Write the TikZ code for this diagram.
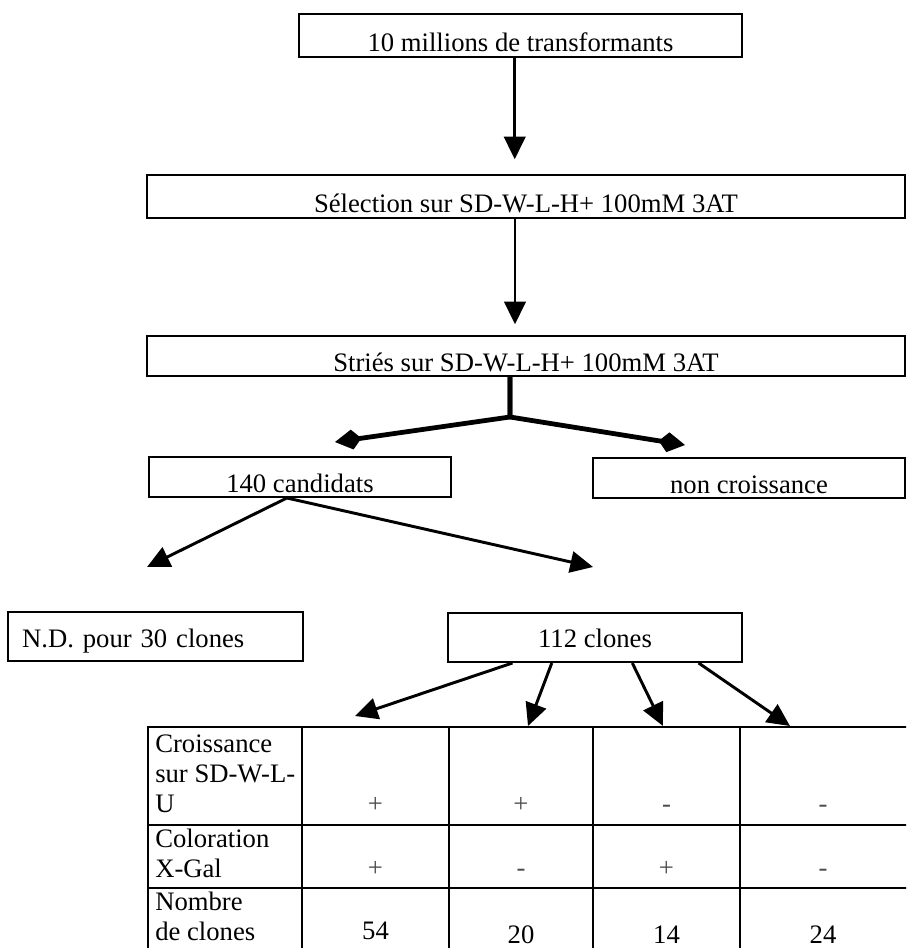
\documentclass[tikz,border=0pt]{standalone}
\usepackage{fontspec}
\setmainfont{Liberation Serif}
\usetikzlibrary{positioning,arrows.meta,calc}

\begin{document}
\begin{tikzpicture}[x=0.75pt,y=-0.75pt,
    box/.style={draw, line width=1.5pt, inner sep=0pt, font=\fontsize{20}{22.5}\selectfont},
    lowbox/.style={box, text height=#1, text depth=3.75pt},
    flow/.style={-{Triangle[length=17pt,width=16pt]}, line width=2.2pt},
    fork/.style={-{Kite[length=20pt,width=15pt,inset=7pt]}, line width=3.6pt, line join=round},
    cell/.style={font=\fontsize{20}{22.5}\selectfont, inner sep=0pt},
    sign/.style={cell, anchor=base, text=black!70},
    grid/.style={line width=1.6pt}]
    \useasboundingbox (0,0) rectangle (906,948);
    \clip (0,0) rectangle (906,948);
    \fill[white] (0,0) rectangle (906,948);

    % Boxes
    \node[lowbox=28.5pt, minimum width=332pt] (transf) at (520.5,35.5) {10 millions de transformants};
    \node[lowbox=28.5pt, minimum width=568.5pt] (select) at (526,196.5) {Sélection sur SD-W-L-H+ 100mM 3AT};
    \node[lowbox=26.25pt, minimum width=568.5pt] (stries) at (526,356) {Striés sur SD-W-L-H+ 100mM 3AT};
    \node[lowbox=26.25pt, minimum width=226.5pt] (cand) at (300,477) {140 candidats};
    \node[lowbox=26.25pt, minimum width=234pt] (noncr) at (749,478) {non croissance};
    \node[box, minimum height=36.75pt, text width=200pt, inner xsep=10.5pt, align=left,
          text height=15.75pt, text depth=0pt] (nd) at (155.5,636.5) {N.D. pour 30 clones};
    \node[box, minimum width=220.5pt, minimum height=36.75pt,
          text height=14.5pt, text depth=0pt] (clones) at (595,637.5) {112 clones};

    % Main flow
    \draw[flow, shorten >=11pt] ($(transf.south west)!0.487!(transf.south east)$) coordinate (p1) -- (p1 |- select.north);
    \draw[flow, shorten >=8pt] ($(select.south west)!0.4855!(select.south east)$) coordinate (p2) -- (p2 |- stries.north);

    % Fork
    \coordinate (fj) at (510,417);
    \coordinate (fl) at (335,442);
    \coordinate (fr) at (685,445);
    \draw[fork] ($(stries.south west)!0.479!(stries.south east)$) coordinate (p3) -- (fj) -- (fl);
    \draw[fork] (p3) -- (fj) -- (fr);

    % Candidates split
    \coordinate (ndtip) at (147,567);
    \coordinate (cltip) at (593,567);
    \draw[flow] ($(cand.south west)!0.457!(cand.south east)$) coordinate (p4) -- (ndtip);
    \draw[flow] (p4) -- (cltip);

    % Clones to table
    \foreach \f/\tx/\ty [count=\i] in {0.221/355/716, 0.354/528/726, 0.626/663/726, 0.85/790/726} {
        \coordinate (tab\i) at (\tx,\ty);
        \draw[flow] ($(clones.south west)!\f!(clones.south east)$) -- (tab\i);
    }

    % Table
    \draw[grid] (148,960) -- (148,727) -- (910,727);
    \foreach \x in {302,449,593,740} \draw[grid] (\x,727) -- (\x,960);
    \foreach \y in {825,888} \draw[grid] (148,\y) -- (910,\y);

    \node[cell, anchor=north west, align=left] (rowgrow) at (155,735) {Croissance\\sur SD-W-L-\\U};
    \node[cell, anchor=north west, align=left] (rowxgal) at (155,829) {Coloration\\X-Gal};
    \node[cell, anchor=north west, align=left] (rownb) at (155,892) {Nombre\\de clones};

    \foreach \x/\sg [count=\i] in {375.5/+, 521/+, 666.5/-, 823/-} \node[sign] (grow\i) at (\x,812) {\sg};
    \foreach \x/\sg [count=\i] in {375.5/+, 521/-, 666.5/+, 823/-} \node[sign] (xgal\i) at (\x,876) {\sg};
    \node[cell, anchor=base] (nb1) at (375.5,939) {54};
    \foreach \x/\val [count=\i from 2] in {521/20, 666.5/14, 823/24} \node[cell, anchor=base] (nb\i) at (\x,943) {\val};
\end{tikzpicture}
\end{document}
